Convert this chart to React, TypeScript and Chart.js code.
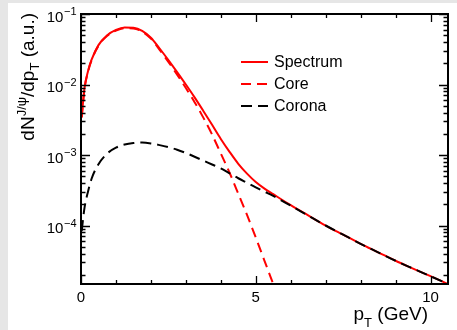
import React, { useEffect, useRef } from "react";
import { Chart, registerables } from "chart.js";

Chart.register(...registerables);

// pT grid (GeV)
const ptAll = [0.02, 0.1, 0.2, 0.3, 0.5, 0.75, 1.0, 1.25, 1.5, 1.75, 2.0, 2.25, 2.5, 2.75, 3.0, 3.25, 3.5, 3.75, 4.0, 4.25, 4.5, 4.75, 5.0, 5.25, 5.5, 6.0, 6.5, 7.0, 7.5, 8.0, 8.5, 9.0, 9.5, 10.0, 10.5];
const ptCore = [0.02, 0.1, 0.2, 0.3, 0.5, 0.75, 1.0, 1.25, 1.5, 1.75, 2.0, 2.25, 2.5, 2.75, 3.0, 3.25, 3.5, 3.75, 4.0, 4.25, 4.5, 4.75, 5.0, 5.25, 5.5];

const spectrum = [3.47e-3, 8.89e-3, 1.54e-2, 2.23e-2, 3.62e-2, 5.0e-2, 5.95e-2, 6.45e-2, 6.39e-2, 5.77e-2, 4.61e-2, 3.24e-2, 2.22e-2, 1.5e-2, 9.99e-3, 6.57e-3, 4.22e-3, 2.68e-3, 1.69e-3, 1.11e-3, 7.5e-4, 5.44e-4, 4.14e-4, 3.34e-4, 2.78e-4, 1.94e-4, 1.39e-4, 1.0e-4, 7.41e-5, 5.5e-5, 4.17e-5, 3.16e-5, 2.45e-5, 1.91e-5, 1.48e-5];
const core = [3.39e-3, 8.71e-3, 1.51e-2, 2.19e-2, 3.55e-2, 4.9e-2, 5.82e-2, 6.31e-2, 6.24e-2, 5.62e-2, 4.47e-2, 3.1e-2, 2.09e-2, 1.38e-2, 8.91e-3, 5.62e-3, 3.39e-3, 1.95e-3, 1.05e-3, 5.62e-4, 2.82e-4, 1.41e-4, 6.76e-5, 3.16e-5, 1.48e-5];
const corona = [8.32e-5, 1.78e-4, 3.02e-4, 4.57e-4, 7.41e-4, 1.05e-3, 1.27e-3, 1.41e-3, 1.48e-3, 1.5e-3, 1.46e-3, 1.38e-3, 1.29e-3, 1.19e-3, 1.07e-3, 9.44e-4, 8.32e-4, 7.33e-4, 6.46e-4, 5.5e-4, 4.68e-4, 4.03e-4, 3.47e-4, 3.02e-4, 2.63e-4, 1.91e-4, 1.38e-4, 1.0e-4, 7.41e-5, 5.5e-5, 4.17e-5, 3.16e-5, 2.45e-5, 1.91e-5, 1.48e-5];

const seriesLabels = ["Spectrum", "Core", "Corona"];
const xLabelValues = [0, 5, 10];
const xLabels = ["0", "5", "10"];
const yDecadeExps = [-1, -2, -3, -4];

const X_MIN = 0;
const X_MAX = 10.5;
const Y_MIN = 1.48e-5;
const Y_MAX = 0.1;

const FONT = '"Liberation Sans", Arial, Helvetica, sans-serif';

const rootStylePlugin = {
  id: "rootStyle",
  afterDatasetsDraw(chart: any) {
    const { ctx, chartArea: a, scales } = chart;
    const xs = scales.x;
    const ys = scales.y;
    ctx.save();

    // frame
    ctx.strokeStyle = "#000";
    ctx.lineWidth = 2;
    ctx.strokeRect(a.left, a.top, a.right - a.left, a.bottom - a.top);

    // x ticks (inward, bottom and top)
    ctx.lineWidth = 1.3;
    ctx.beginPath();
    for (let v = Math.ceil(X_MIN); v <= X_MAX; v++) {
      const px = Math.round(xs.getPixelForValue(v)) + 0.5;
      const len = v % 5 === 0 ? 8 : 4;
      ctx.moveTo(px, a.bottom);
      ctx.lineTo(px, a.bottom - len);
      ctx.moveTo(px, a.top);
      ctx.lineTo(px, a.top + len);
    }
    // y ticks (inward, left and right)
    for (let e = -6; e <= -1; e++) {
      for (let m = 1; m <= 9; m++) {
        const v = m * Math.pow(10, e);
        if (v < Y_MIN * 0.999 || v > Y_MAX * 1.001) continue;
        const py = Math.round(ys.getPixelForValue(v)) + 0.5;
        const len = m === 1 ? 9 : 4.5;
        ctx.moveTo(a.left, py);
        ctx.lineTo(a.left + len, py);
        ctx.moveTo(a.right, py);
        ctx.lineTo(a.right - len, py);
      }
    }
    ctx.stroke();

    ctx.fillStyle = "#000";
    // x tick labels
    ctx.font = `15px ${FONT}`;
    ctx.textAlign = "center";
    ctx.textBaseline = "alphabetic";
    xLabelValues.forEach((v, i) => {
      const px = xs.getPixelForValue(v);
      ctx.fillText(xLabels[i], px, a.bottom + 18);
    });

    // y tick labels 10^n
    yDecadeExps.forEach((e) => {
      const py = ys.getPixelForValue(Math.pow(10, e));
      const base = "10";
      const sup = "\u2212" + String(-e);
      ctx.font = `15px ${FONT}`;
      const bw = ctx.measureText(base).width;
      ctx.font = `11px ${FONT}`;
      const sw = ctx.measureText(sup).width;
      const xEnd = a.left - 4.5;
      const bx = xEnd - sw - bw - 0.5;
      ctx.textAlign = "left";
      ctx.font = `15px ${FONT}`;
      ctx.fillText(base, bx, py + 7.5);
      ctx.font = `11px ${FONT}`;
      ctx.fillText(sup, bx + bw + 0.5, py + 1);
    });

    // x title: p_T (GeV), right aligned
    {
      const pieces = [
        { t: "p", size: 19, dy: 0 },
        { t: "T", size: 13, dy: 7 },
        { t: " (GeV)", size: 19, dy: 0 },
      ];
      let total = 0;
      pieces.forEach((p) => {
        ctx.font = `${p.size}px ${FONT}`;
        total += ctx.measureText(p.t).width;
      });
      let x = a.right - 20 - total;
      const base = a.bottom + 36;
      ctx.textAlign = "left";
      pieces.forEach((p) => {
        ctx.font = `${p.size}px ${FONT}`;
        ctx.fillText(p.t, x, base + p.dy);
        x += ctx.measureText(p.t).width;
      });
    }

    // y title: dN^{J/psi}/dp_T (a.u.), rotated, right aligned at top
    {
      const pieces = [
        { t: "dN", size: 19, dy: 0 },
        { t: "J/\u03C8", size: 13, dy: -8 },
        { t: "/dp", size: 19, dy: 0 },
        { t: "T", size: 13, dy: 5 },
        { t: " (a.u.)", size: 19, dy: 0 },
      ];
      let total = 0;
      pieces.forEach((p) => {
        ctx.font = `${p.size}px ${FONT}`;
        total += ctx.measureText(p.t).width;
      });
      ctx.save();
      ctx.translate(a.left - 47.5, a.top - 1 + total);
      ctx.rotate(-Math.PI / 2);
      ctx.textAlign = "left";
      let x = 0;
      pieces.forEach((p) => {
        ctx.font = `${p.size}px ${FONT}`;
        ctx.fillText(p.t, x, p.dy);
        x += ctx.measureText(p.t).width;
      });
      ctx.restore();
    }

    // legend
    const ds = chart.data.datasets;
    ctx.textAlign = "left";
    ctx.textBaseline = "middle";
    ctx.font = `16px ${FONT}`;
    ds.forEach((d: any, i: number) => {
      const y = a.top + 48 + i * 22;
      ctx.save();
      ctx.strokeStyle = d.borderColor;
      ctx.lineWidth = 2;
      ctx.setLineDash(d.borderDash || []);
      ctx.beginPath();
      ctx.moveTo(a.left + 160, y);
      ctx.lineTo(a.left + 187, y);
      ctx.stroke();
      ctx.restore();
      ctx.fillStyle = "#000";
      ctx.fillText(d.label, a.left + 193, y + 0.5);
    });

    ctx.restore();
  },
};

export default function App() {
  const canvasRef = useRef<HTMLCanvasElement | null>(null);

  useEffect(() => {
    const canvas = canvasRef.current;
    if (!canvas) return;
    const chart = new Chart(canvas, {
      type: "line",
      data: {
        datasets: [
          {
            label: seriesLabels[0],
            data: ptAll.map((x, i) => ({ x, y: spectrum[i] })),
            borderColor: "#ff0000",
            borderWidth: 2,
            pointRadius: 0,
            fill: false,
            cubicInterpolationMode: "monotone",
            order: 3,
          },
          {
            label: seriesLabels[1],
            data: ptCore.map((x, i) => ({ x, y: core[i] })),
            borderColor: "#ff0000",
            borderWidth: 2,
            borderDash: [10, 6],
            pointRadius: 0,
            fill: false,
            cubicInterpolationMode: "monotone",
            order: 2,
          },
          {
            label: seriesLabels[2],
            data: ptAll.map((x, i) => ({ x, y: corona[i] })),
            borderColor: "#000000",
            borderWidth: 2,
            borderDash: [11, 6],
            pointRadius: 0,
            fill: false,
            cubicInterpolationMode: "monotone",
            order: 1,
          },
        ],
      } as any,
      options: {
        responsive: false,
        animation: false,
        devicePixelRatio: 1,
        layout: { padding: { top: 11, right: 9, left: 0, bottom: 0 } },
        plugins: {
          legend: { display: false },
          tooltip: { enabled: false },
        },
        events: [],
        scales: {
          x: {
            type: "linear",
            min: X_MIN,
            max: X_MAX,
            grid: { display: false },
            border: { display: false },
            ticks: { display: false },
            afterFit: (s: any) => {
              s.height = 46;
            },
          },
          y: {
            type: "logarithmic",
            min: Y_MIN,
            max: Y_MAX,
            grid: { display: false },
            border: { display: false },
            ticks: { display: false },
            afterFit: (s: any) => {
              s.width = 73;
            },
          },
        },
      } as any,
      plugins: [rootStylePlugin],
    });
    return () => chart.destroy();
  }, []);

  return (
    <div
      style={{
        position: "fixed",
        left: 0,
        top: 0,
        width: 457,
        height: 330,
        background: "#e6e6e6",
        overflow: "hidden",
      }}
    >
      <div
        style={{
          position: "absolute",
          left: 8,
          top: 3,
          width: 449,
          height: 327,
          background: "#ffffff",
        }}
      >
        <canvas
          ref={canvasRef}
          width={449}
          height={327}
          style={{ display: "block", width: 449, height: 327 }}
        />
      </div>
    </div>
  );
}
